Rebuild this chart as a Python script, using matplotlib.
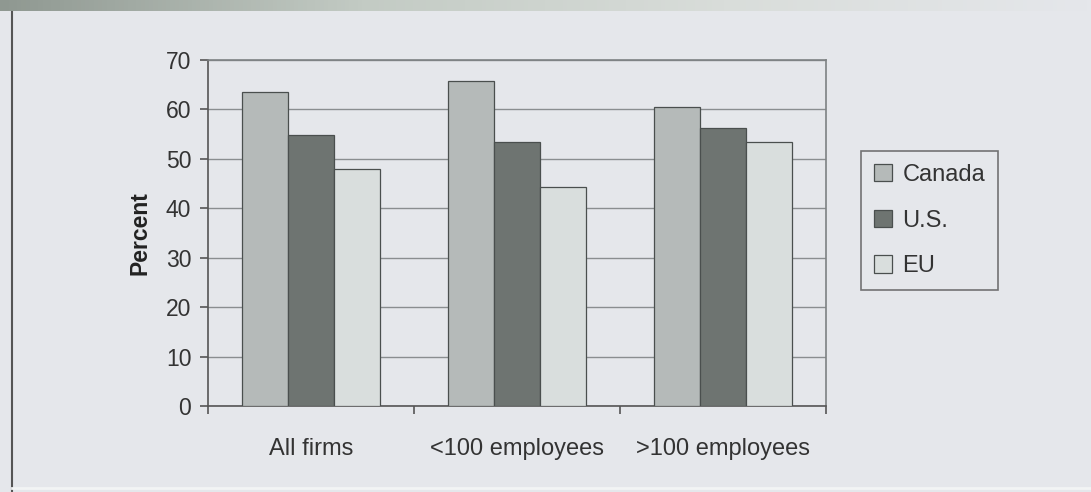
import numpy as np
import matplotlib.pyplot as plt

categories = ['All firms', '<100 employees', '>100 employees']
series = ['Canada', 'U.S.', 'EU']
canada = [63.5, 65.8, 60.4]
us = [54.9, 53.4, 56.3]
eu = [47.9, 44.3, 53.5]

colors = ['#b5bab9', '#6e7471', '#d9dedd']
bg = '#e5e7eb'
edge = '#4a4f4e'

plt.rcParams['font.family'] = ['Liberation Sans', 'DejaVu Sans']

fig = plt.figure(figsize=(10.91, 4.92), dpi=100, facecolor=bg)
ax = fig.add_axes([208/1091, 1-406/492, 618/1091, 346/492])
ax.set_facecolor(bg)

# bars: Excel style, gap width 150%
n = len(categories)
x = np.arange(n)
w = 1/4.5
for i, (name, vals) in enumerate(zip(series, [canada, us, eu])):
    ax.bar(x + (i-1)*w, vals, width=w, color=colors[i], edgecolor=edge,
           linewidth=0.9, label=name, zorder=3)

ax.set_xlim(-0.5, n-0.5)
ax.set_ylim(0, 70)
ax.set_yticks(range(0, 71, 10))
ax.yaxis.grid(True, color='#8a8e90', linewidth=1.0, zorder=0)

# category ticks sit between groups
ax.set_xticks(np.arange(-0.5, n, 1.0))
ax.set_xticklabels([])
ax.set_xticks(x, minor=True)
ax.set_xticklabels(categories, minor=True)
ax.tick_params(axis='x', which='minor', length=0, pad=23, labelsize=17, labelcolor='#333333')
ax.tick_params(axis='x', which='major', length=6, direction='out', color='#555555', width=1.2)
ax.tick_params(axis='y', length=6, direction='out', color='#555555', width=1.2,
               labelsize=16.5, labelcolor='#333333', pad=6)

for side in ['left', 'bottom']:
    ax.spines[side].set_color('#555555')
    ax.spines[side].set_linewidth(1.2)
for side in ['top', 'right']:
    ax.spines[side].set_color('#7d8183')
    ax.spines[side].set_linewidth(1.2)

ax.set_ylabel('Percent', fontsize=16.5, fontweight='bold', color='#222222', labelpad=10)

leg = ax.legend(loc='upper left', bbox_to_anchor=(861/1091, 1-151/492),
                bbox_transform=fig.transFigure, frameon=True, fontsize=17,
                handlelength=0.75, handleheight=0.75, handletextpad=0.45,
                labelspacing=1.0, borderpad=0.55, fancybox=False,
                borderaxespad=0)
leg.get_frame().set_edgecolor('#555555')
leg.get_frame().set_facecolor(bg)
leg.get_frame().set_linewidth(1.2)
for t in leg.get_texts():
    t.set_color('#333333')

# outer frame line on the left and cut-off heading band at the top
fig.add_artist(plt.Line2D([12/1091, 12/1091], [0.0, 1-12/492], color='#555555', linewidth=1.5))
fig.add_artist(plt.Line2D([12/1091, 1.0], [4/492, 4/492], color='#f2f4f4', linewidth=2))
grad = np.linspace(0, 1, 256).reshape(1, -1)
band = fig.add_axes([0, 1-11/492, 1, 11/492])
band.imshow(grad, aspect='auto', cmap=plt.matplotlib.colors.LinearSegmentedColormap.from_list(
    'band', ['#8f9891', '#c3cbc4', '#d9ddda', bg]), extent=[0, 1, 0, 1])
band.axis('off')

fig.savefig('out.png', dpi=100, facecolor=bg)
